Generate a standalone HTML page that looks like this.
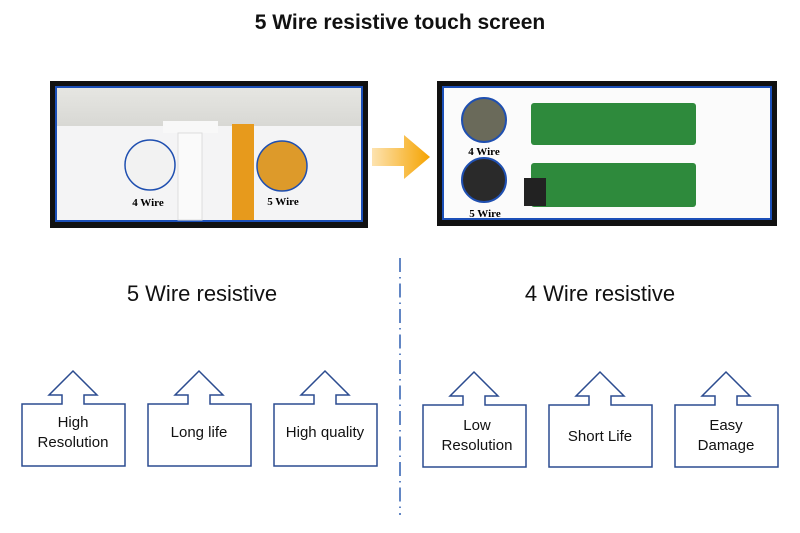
<!DOCTYPE html>
<html><head><meta charset="utf-8"><style>
body{margin:0;background:#fff;}
svg{display:block;font-family:"Liberation Sans",sans-serif;}
</style></head><body>
<svg width="800" height="533" viewBox="0 0 800 533" xmlns="http://www.w3.org/2000/svg">
<defs>
<linearGradient id="ar" x1="0" x2="1"><stop offset="0" stop-color="#fde3b0"/><stop offset="1" stop-color="#f5a300"/></linearGradient>
<linearGradient id="gl" x1="0" y1="0" x2="0" y2="1"><stop offset="0" stop-color="#e6e6e2"/><stop offset="1" stop-color="#d8d8d4"/></linearGradient>
</defs>
<text x="400" y="29" font-size="21" font-weight="bold" text-anchor="middle" fill="#111">5 Wire resistive touch screen</text>

<rect x="50" y="81" width="318" height="147" fill="#111"/>
<rect x="55" y="86" width="308" height="136" fill="#1b4fb8"/>
<rect x="57" y="88" width="304" height="132" fill="#f4f4f5"/>
<rect x="57" y="88" width="304" height="38" fill="url(#gl)"/>
<rect x="163" y="121" width="55" height="12" fill="#f8f8f8"/>
<rect x="178" y="133" width="24" height="87" fill="#fafafa" stroke="#ddd"/>
<rect x="232" y="124" width="22" height="96" fill="#e79a1c"/>
<circle cx="150" cy="165" r="25" fill="#f2f2f2" stroke="#1f4fb0" stroke-width="1.5"/>
<circle cx="282" cy="166" r="25" fill="#dd9a2a" stroke="#1f4fb0" stroke-width="1.5"/>
<text x="148" y="206" font-family="Liberation Serif,serif" font-size="11" font-weight="bold" text-anchor="middle">4 Wire</text>
<text x="283" y="205" font-family="Liberation Serif,serif" font-size="11" font-weight="bold" text-anchor="middle">5 Wire</text>

<polygon points="372,148 404,148 404,135 430,157 404,179 404,166 372,166" fill="url(#ar)"/>

<rect x="437" y="81" width="340" height="145" fill="#111"/>
<rect x="442" y="86" width="330" height="134" fill="#1b4fb8"/>
<rect x="444" y="88" width="326" height="130" fill="#fbfbfb"/>
<rect x="531" y="103" width="165" height="42" rx="3" fill="#2e8a3c"/>
<rect x="531" y="163" width="165" height="44" rx="3" fill="#2e8a3c"/>
<rect x="524" y="178" width="22" height="28" fill="#222"/>
<circle cx="484" cy="120" r="22" fill="#6a6a5a" stroke="#1f4fb0" stroke-width="2"/>
<circle cx="484" cy="180" r="22" fill="#2a2a2a" stroke="#1f4fb0" stroke-width="2"/>
<text x="484" y="155" font-family="Liberation Serif,serif" font-size="11" font-weight="bold" text-anchor="middle">4 Wire</text>
<text x="485" y="217" font-family="Liberation Serif,serif" font-size="11" font-weight="bold" text-anchor="middle">5 Wire</text>

<text x="202" y="301" font-size="22" text-anchor="middle" fill="#111">5 Wire resistive</text>
<text x="600" y="301" font-size="22" text-anchor="middle" fill="#111">4 Wire resistive</text>

<line x1="400" y1="258" x2="400" y2="515" stroke="#2f5fb0" stroke-width="1.5" stroke-dasharray="14,5,1.5,5"/>

<g fill="#fff" stroke="#2c4c90" stroke-width="1.5">
<path d="M22,404 H62 V395 H49 L73,371 L97,395 H84 V404 H125 V466 H22 Z"/>
<path d="M148,404 H188 V395 H175 L199,371 L223,395 H210 V404 H251 V466 H148 Z"/>
<path d="M274,404 H314 V395 H301 L325,371 L349,395 H336 V404 H377 V466 H274 Z"/>
<path d="M423,405 H463 V396 H450 L474,372 L498,396 H485 V405 H526 V467 H423 Z"/>
<path d="M549,405 H589 V396 H576 L600,372 L624,396 H611 V405 H652 V467 H549 Z"/>
<path d="M675,405 H715 V396 H702 L726,372 L750,396 H737 V405 H778 V467 H675 Z"/>
</g>
<g font-size="15" text-anchor="middle" fill="#111">
<text x="73" y="427">High</text><text x="73" y="447">Resolution</text>
<text x="199" y="437">Long life</text>
<text x="325" y="437">High quality</text>
<text x="477" y="430">Low</text><text x="477" y="450">Resolution</text>
<text x="600" y="441">Short Life</text>
<text x="726" y="430">Easy</text><text x="726" y="450">Damage</text>
</g>
</svg>
</body></html>
